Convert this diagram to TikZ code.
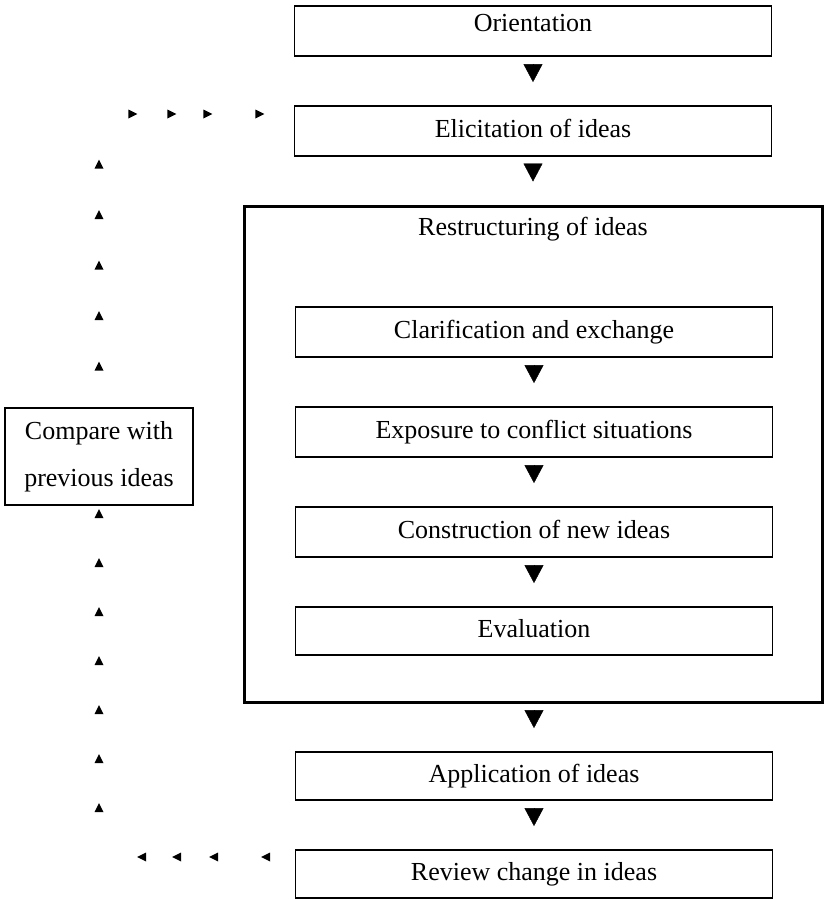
\documentclass[tikz,border=0pt]{standalone}
\usepackage{fontspec}
\setmainfont{Liberation Serif}
\usetikzlibrary{arrows.meta,decorations.markings}

\tikzset{
  stagebox/.style={draw, line width=1.8pt, minimum width=477pt, minimum height=50pt,
    inner sep=0pt, text height=19.5pt, text depth=6.5pt,
    font=\fontsize{26}{31}\selectfont},
  groupbox/.style={draw, line width=3pt, inner sep=0pt},
  flow/.style={-{Triangle[width=19pt,length=18pt]}, line width=0.4pt,
    shorten <=7pt, shorten >=23pt},
  backloop/.style={decorate, decoration={markings, #1}}
}
\newcommand{\looptip}{\fill (-4.5pt,-4.5pt) -- (4.5pt,0pt) -- (-4.5pt,4.5pt) -- cycle;}

\begin{document}
\begin{tikzpicture}[x=1pt,y=-1pt]
    \useasboundingbox (0,0) rectangle (826,900);

    % Draw the stages
    \node[stagebox, text height=10pt, text depth=9pt] (orient) at (533,31) {Orientation};
    \node[stagebox] (elicit) at (533,131) {Elicitation of ideas};

    % Draw the restructuring block
    \node[groupbox, minimum width=578pt, minimum height=496pt] (restr) at (533,454) {};
    \node[font=\fontsize{26}{31}\selectfont] (restrtitle) at (533,229) {Restructuring of ideas};
    \node[stagebox] (clarif) at (534,332) {Clarification and exchange};
    \node[stagebox] (expose) at (534,432) {Exposure to conflict situations};
    \node[stagebox] (constr) at (534,532) {Construction of new ideas};
    \node[stagebox, minimum height=48pt] (evalu) at (534,631) {Evaluation};

    \node[stagebox, minimum height=48pt] (apply) at (534,776) {Application of ideas};
    \node[stagebox, minimum height=48pt] (review) at (534,874) {Review change in ideas};

    % Draw the side box
    \node[draw, line width=1.8pt, minimum width=188pt, minimum height=97pt, align=center,
      font=\fontsize{26}{47}\selectfont] (compare) at (99,456.5) {Compare with\\previous ideas};

    % Draw the arrows
    \draw[flow] (orient.south) -- (elicit.north);
    \draw[flow] (elicit.south) -- (restr.north -| elicit.south);
    \draw[flow] (clarif.south) -- (expose.north);
    \draw[flow] (expose.south) -- (constr.north);
    \draw[flow] (constr.south) -- (evalu.north);
    \draw[flow] (restr.south -| apply.north) -- (apply.north);
    \draw[flow] (apply.south) -- (review.north);

    % Draw the feedback loop
    \coordinate (lowcorner) at (99,857);
    \coordinate (upcorner) at (99,114);
    \path[backloop={mark=at position 29pt with {\looptip},
        mark=at position 81pt with {\looptip},
        mark=at position 118pt with {\looptip},
        mark=at position 153pt with {\looptip},
        mark=between positions 245pt and 540pt step 49pt with {\looptip}}]
      (review.west |- lowcorner) -- (lowcorner) -- (compare.south);
    \path[backloop={mark=between positions 41pt and 250pt step 50.5pt with {\looptip},
        mark=at position 327pt with {\looptip},
        mark=at position 366pt with {\looptip},
        mark=at position 402pt with {\looptip},
        mark=at position 454pt with {\looptip}}]
      (compare.north) -- (upcorner) -- (elicit.west |- upcorner);
\end{tikzpicture}
\end{document}
